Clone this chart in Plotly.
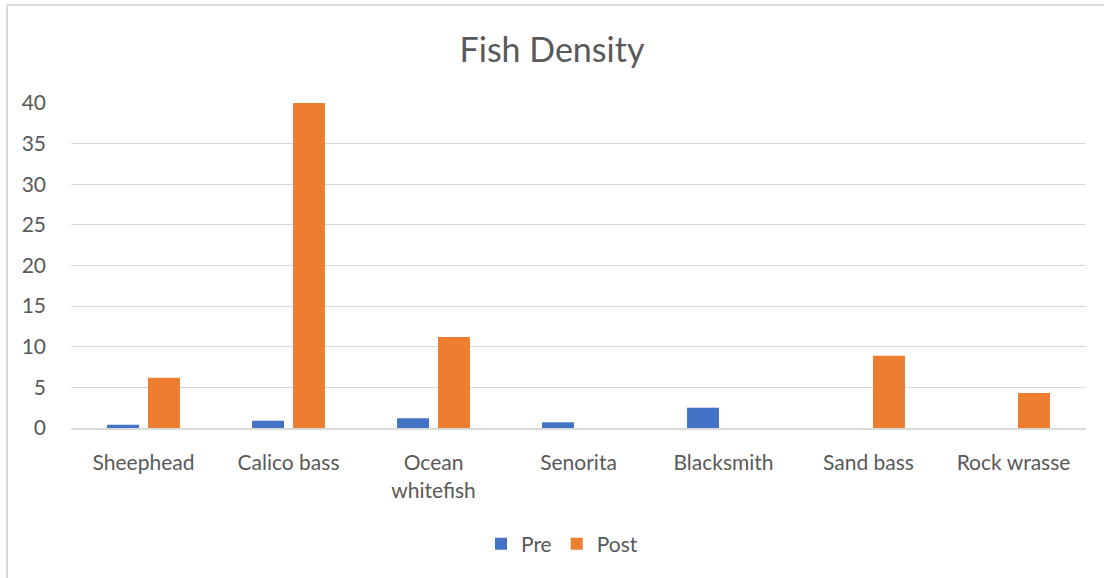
import plotly.graph_objects as go

species = ["Sheephead", "Calico bass", "Ocean<br>whitefish", "Senorita",
           "Blacksmith", "Sand bass", "Rock wrasse"]
pre_density = [0.4, 0.9, 1.2, 0.7, 2.5, 0, 0]
post_density = [6.2, 40, 11.2, 0, 0, 8.9, 4.3]
y_ticks = [0, 5, 10, 15, 20, 25, 30, 35, 40]

W, H = 1104, 578
ML, MR, MT, MB = 71, 18, 103, 150
PW, PH = W - ML - MR, H - MT - MB

FONT = "Lato"
TXT = "#595959"
GRID = "#d9d9d9"

fig = go.Figure()
fig.add_bar(name="Pre", x=species, y=pre_density, marker_color="#4472C4",
            marker_line_width=0)
fig.add_bar(name="Post", x=species, y=post_density, marker_color="#ED7D31",
            marker_line_width=0)

# chart frame (left and top edges visible)
def px_x(p):
    return (p - ML) / PW

def px_y(p):
    return (H - MB - p) / PH

frame = dict(color=GRID, width=2)
fig.add_shape(type="line", xref="paper", yref="paper",
              x0=px_x(7), x1=px_x(7), y0=px_y(5), y1=px_y(H + 5), line=frame)
fig.add_shape(type="line", xref="paper", yref="paper",
              x0=px_x(7), x1=px_x(W + 5), y0=px_y(5), y1=px_y(5), line=frame)

fig.update_layout(
    width=W, height=H,
    margin=dict(l=ML, r=MR, t=MT, b=MB),
    paper_bgcolor="white", plot_bgcolor="white",
    barmode="group", bargap=0.435, bargroupgap=0.22,
    title=dict(text="Fish Density", x=0.5, xanchor="center", y=1 - 50 / H,
               yanchor="middle", font=dict(family=FONT, size=34, color=TXT)),
    font=dict(family=FONT, color=TXT),
    legend=dict(orientation="h", x=px_x(562), xanchor="center", y=px_y(544),
                yanchor="middle", font=dict(family=FONT, size=21, color=TXT),
                itemwidth=30, traceorder="normal"),
    showlegend=True,
)
fig.update_yaxes(range=[0, 40], tickvals=y_ticks, showgrid=True,
                 gridcolor=GRID, gridwidth=1, zeroline=False, showline=False,
                 tickfont=dict(family=FONT, size=21, color=TXT),
                 ticklabelstandoff=24, fixedrange=True)
fig.update_xaxes(showline=True, linecolor=GRID, linewidth=2,
                 tickfont=dict(family=FONT, size=21, color=TXT),
                 ticklabelstandoff=15, fixedrange=True)

fig.write_html("out.html")
